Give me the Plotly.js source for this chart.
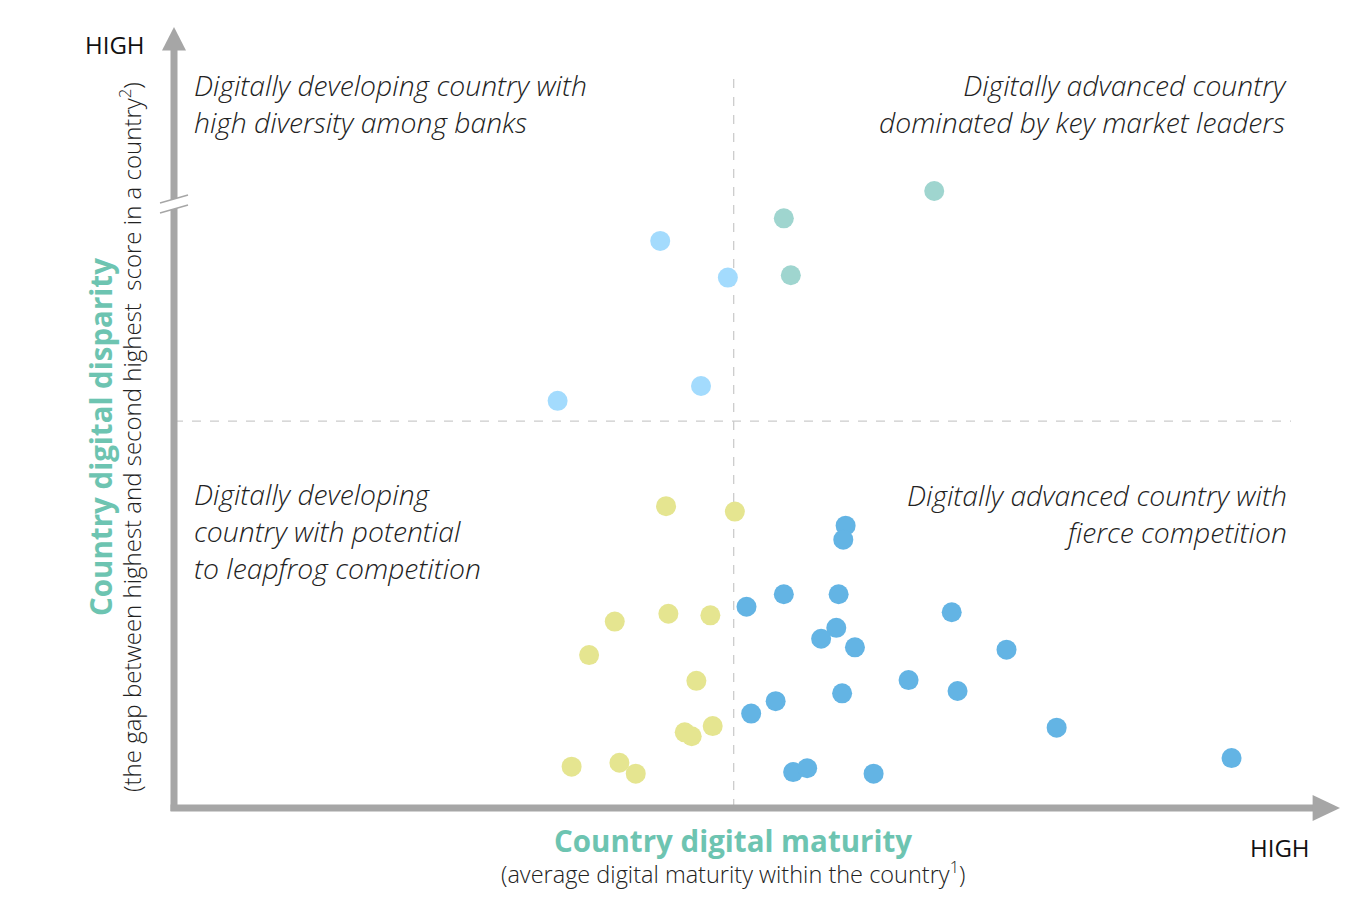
<!DOCTYPE html>
<html>
<head>
<meta charset="utf-8">
<script src="https://cdn.plot.ly/plotly-3.0.1.min.js"></script>
<style>
html,body{margin:0;padding:0;background:#fff;}
#chart{width:1361px;height:897px;}
</style>
</head>
<body>
<div id="chart"></div>
<script>
// Data (0-100 scales for maturity and disparity)
const lightBlueX = [41.7, 47.5, 45.2, 32.9];
const lightBlueY = [72.7, 68.0, 54.1, 52.2];

const tealX = [65.2, 52.3, 52.9];
const tealY = [79.1, 75.6, 68.3];

const yellowX = [42.2, 48.1, 37.8, 42.4, 46.0, 35.6, 44.8, 43.8, 44.4, 46.2, 34.1, 38.2, 39.6];
const yellowY = [38.7, 38.0, 23.9, 24.9, 24.7, 19.6, 16.3, 9.7, 9.2, 10.5, 5.3, 5.8, 4.4];

const blueX = [57.6, 57.4, 49.1, 52.3, 57.0, 66.7, 56.8, 55.5, 58.4, 71.4, 63.0, 57.3, 67.2, 51.6, 49.5, 75.7, 90.7, 53.1, 54.3, 60.0];
const blueY = [36.2, 34.4, 25.8, 27.4, 27.4, 25.1, 23.1, 21.7, 20.6, 20.3, 16.4, 14.7, 15.0, 13.7, 12.1, 10.3, 6.4, 4.6, 5.1, 4.4];

const midX = 48.0;   // maturity threshold
const midY = 49.6;   // disparity threshold

const quadrantLabels = [
  "Digitally developing country with<br>high diversity among banks",
  "Digitally advanced country<br>dominated by key market leaders",
  "Digitally developing<br>country with potential<br>to leapfrog competition",
  "Digitally advanced country with<br>fierce competition"
];
const xTitle = "Country digital maturity";
const xSub = "(average digital maturity within the country<sup>1</sup>)";
const yTitle = "Country digital disparity";
const ySub = "(the gap between highest and second highest  score in a country<sup>2</sup>)";
const highLabel = "HIGH";

const FONT = "Open Sans, Noto Sans, sans-serif";
const TEAL = "#6dc4b1";
const AX = "#a6a6a6";

function tr(x, y, color){
  return {type:'scatter', mode:'markers', x:x, y:y, hoverinfo:'skip',
    marker:{size:20, color:color, line:{width:0}}, showlegend:false, cliponaxis:false};
}

const data = [
  tr(lightBlueX, lightBlueY, '#a3dbfd'),
  tr(tealX, tealY, '#9fd5cf'),
  tr(yellowX, yellowY, '#e5e590'),
  tr(blueX, blueY, '#63b4e4')
];

const shapes = [
  {type:'line', xref:'x', yref:'paper', x0:midX, x1:midX, y0:0, y1:0.9436, line:{color:'#cccccc', width:1.3, dash:'dash'}, layer:'below'},
  {type:'line', xref:'x', yref:'y', x0:0, x1:95.8, y0:midY, y1:midY, line:{color:'#cccccc', width:1.3, dash:'dash'}, layer:'below'},
  // y axis
  {type:'line', xref:'paper', yref:'paper', x0:0, x1:0, y0:-0.004, y1:0.972, line:{color:AX, width:7}},
  {type:'path', xref:'paper', yref:'paper', path:'M -0.0103 0.971 L 0.0103 0.971 L 0 1.0013 Z', fillcolor:AX, line:{width:0}},
  // x axis
  {type:'line', xref:'paper', yref:'paper', x0:-0.003, x1:0.977, y0:0, y1:0, line:{color:AX, width:7}},
  {type:'path', xref:'paper', yref:'paper', path:'M 0.9765 0.0167 L 0.9765 -0.0167 L 1.0 0 Z', fillcolor:AX, line:{width:0}},
  // break mark
  {type:'path', xref:'paper', yref:'paper', path:'M -0.012 0.7756 L 0.012 0.7859 L 0.012 0.7731 L -0.012 0.7628 Z', fillcolor:'#ffffff', line:{width:0}},
  {type:'line', xref:'paper', yref:'paper', x0:-0.012, y0:0.7756, x1:0.012, y1:0.7859, line:{color:AX, width:1.5}},
  {type:'line', xref:'paper', yref:'paper', x0:-0.012, y0:0.7628, x1:0.012, y1:0.7731, line:{color:AX, width:1.5}}
];

const qFont = {family:FONT, size:28.3, color:'#222', style:'italic', weight:300};
const annotations = [
  {xref:'paper', yref:'paper', x:0.0155, y:0.9035, xanchor:'left', yanchor:'middle', align:'left', text:quadrantLabels[0], showarrow:false, font:qFont},
  {xref:'paper', yref:'paper', x:0.9562, y:0.9035, xanchor:'right', yanchor:'middle', align:'right', text:quadrantLabels[1], showarrow:false, font:qFont},
  {xref:'paper', yref:'paper', x:0.0155, y:0.3551, xanchor:'left', yanchor:'middle', align:'left', text:quadrantLabels[2], showarrow:false, font:qFont},
  {xref:'paper', yref:'paper', x:0.9562, y:0.3776, xanchor:'right', yanchor:'middle', align:'right', text:quadrantLabels[3], showarrow:false, font:qFont},
  {xref:'paper', yref:'paper', x:-0.0506, y:0.979, xanchor:'center', yanchor:'middle', text:highLabel, showarrow:false, font:{family:FONT, size:24, color:'#111'}},
  {xref:'paper', yref:'paper', x:0.9486, y:-0.0503, xanchor:'center', yanchor:'middle', text:highLabel, showarrow:false, font:{family:FONT, size:24, color:'#111'}},
  {xref:'paper', yref:'paper', x:0.4794, y:-0.0423, xanchor:'center', yanchor:'middle', text:'<b>'+xTitle+'</b>', showarrow:false, font:{family:FONT, size:29.5, color:TEAL}},
  {xref:'paper', yref:'paper', x:0.4794, y:-0.0833, xanchor:'center', yanchor:'middle', text:xSub, showarrow:false, font:{family:FONT, size:23.5, color:'#222', weight:300}},
  {xref:'paper', yref:'paper', x:-0.0635, y:0.4756, xanchor:'center', yanchor:'middle', textangle:-90, text:'<b>'+yTitle+'</b>', showarrow:false, font:{family:FONT, size:29.5, color:TEAL}},
  {xref:'paper', yref:'paper', x:-0.0378, y:0.4756, xanchor:'center', yanchor:'middle', textangle:-90, text:ySub, showarrow:false, font:{family:FONT, size:24, color:'#222', weight:300}}
];

const axisOff = {range:[0,100], showgrid:false, zeroline:false, showticklabels:false, showline:false, ticks:'', fixedrange:true};

const layout = {
  width:1361, height:897,
  margin:{l:174, r:21, t:28, b:89},
  paper_bgcolor:'#ffffff', plot_bgcolor:'rgba(0,0,0,0)',
  xaxis:Object.assign({}, axisOff),
  yaxis:Object.assign({}, axisOff),
  shapes:shapes,
  annotations:annotations,
  showlegend:false,
  font:{family:FONT}
};

Plotly.newPlot('chart', data, layout, {displayModeBar:false, staticPlot:true});
</script>
</body>
</html>
